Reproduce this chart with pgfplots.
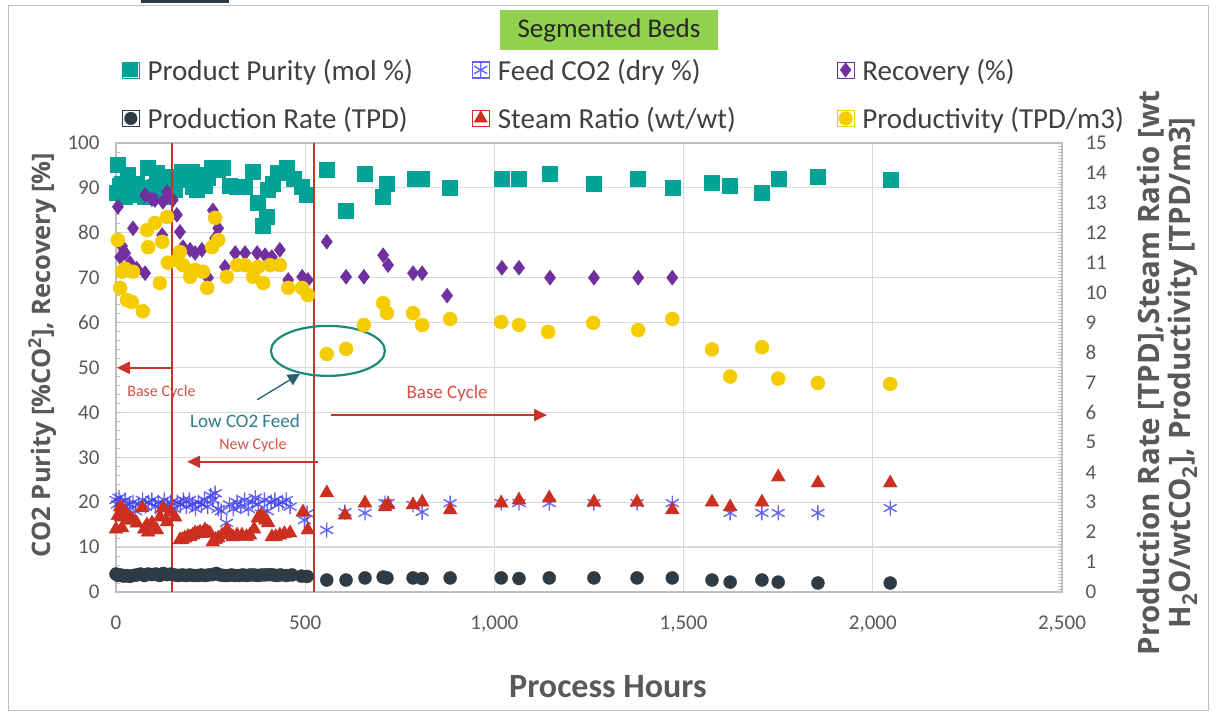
\documentclass[border=0pt]{standalone}
\usepackage{fontspec}
\setmainfont{Carlito}
\newfontfamily\osfont{Open Sans}
\usepackage{pgfplots}
\pgfplotsset{compat=1.18}
\usetikzlibrary{arrows.meta}
\definecolor{cTeal}{HTML}{00A396}
\definecolor{cPurple}{HTML}{7030A0}
\definecolor{cYellow}{HTML}{F5CC00}
\definecolor{cDark}{HTML}{2E3B44}
\definecolor{cRed}{HTML}{CC2E1F}
\definecolor{cBlue}{HTML}{4040F0}
\definecolor{cGrid}{HTML}{D9D9D9}
\definecolor{cAxis}{HTML}{BFBFBF}
\definecolor{cTick}{HTML}{595959}
\definecolor{cTxt}{HTML}{404040}
\definecolor{cLine}{HTML}{C8342A}
\definecolor{cAnn}{HTML}{D5504A}
\definecolor{cLow}{HTML}{2F7A8C}
\definecolor{cEll}{HTML}{1B8A7C}
\definecolor{cGreen}{HTML}{92D050}
\pgfkeys{/pgf/number format/1000 sep={,}}
\pgfplotsset{myleg/.style={legend image code/.code={\path (0pt,-8pt) rectangle (17pt,8pt); \draw[##1, draw=#1, fill=#1, line width=0.01pt, mark options={draw=#1, fill=#1, line width=0.01pt}] plot coordinates {(8.5pt,0pt)};}}}
\pgfplotsset{mylegB/.style={legend image code/.code={\path (0pt,-8pt) rectangle (17pt,8pt); \draw[##1, draw=#1] plot coordinates {(8.5pt,0pt)};}}}
\newcommand{\lstrut}{\rule[-5pt]{0pt}{27pt}}
\begin{document}
\begin{tikzpicture}[x=1pt,y=1pt]
\useasboundingbox (0,0) rectangle (1216,714);
\fill[white] (0,0) rectangle (1216,714);
\draw[cAxis, line width=1pt] (8,3) rectangle (1208,708);
\fill[cDark] (141,711) rectangle (229,714);
\node[fill=cGreen, minimum width=218pt, minimum height=40pt, inner sep=0pt, text=black!85,
  font=\fontsize{27}{32}\selectfont] at (609,684) {Segmented Beds};

\begin{axis}[
  at={(116pt,122pt)}, anchor=south west,
  width=946pt, height=449pt, scale only axis,
  xmin=0, xmax=2500, ymin=0, ymax=100,
  xtick={0,500,...,2500}, ytick={0,10,...,100},
  minor y tick num=4,
  ytick pos=left,
  grid=major, major grid style={cGrid, line width=1.2pt},
  axis line style={cAxis, line width=1.2pt},
  tick align=inside,
  xtick style={draw=none},
  ytick style={cAxis, line width=0.8pt},
  major tick length=5pt, minor tick length=4pt,
  /pgf/number format/assume math mode=true,
  tick label style={font=\fontsize{21}{25}\selectfont, text=cTick},
  xticklabel style={yshift=-20pt},
  yticklabel style={xshift=-13pt},
  xlabel={Process Hours},
  xlabel style={font=\bfseries\fontsize{34}{40}\selectfont, text=cTick},
  every axis x label/.append style={at={(axis description cs:0.52,-0.2116)}, anchor=center},
  ylabel={CO2 Purity [\%CO\textsuperscript{2}], Recovery [\%]},
  ylabel style={font=\osfont\bfseries\fontsize{25.5}{30}\selectfont, text=cTick},
  every axis y label/.append style={at={(axis description cs:-0.078,0.528)}, anchor=center},
  legend columns=3,
  legend cell align=left,
  legend style={at={(axis description cs:0.0031,1.1938)}, anchor=north west, draw=white, fill=white,
    font=\fontsize{29}{34}\selectfont, nodes={inner sep=0pt},
    /tikz/every odd column/.append style={column sep=8pt},
    /tikz/every even column/.append style={column sep=0pt},
    row sep=25pt},
]
% Product Purity
\addplot[only marks, myleg=cTeal, mark=square*, mark size=7.5pt, color=cTeal] coordinates {
(3,88.9)(5,95.1)(10,90.5)(16,91)(24,88)(32,92.9)(40,89.5)(55,91)(65,88.5)(77,88)(85,94.5)(95,90)
(103,90.2)(108,93.3)(118,89)(130,92.4)(135,88)(145,91)(156,89.5)(165,92.5)(174,93.5)(188,91.8)
(196,92.5)(201,93.5)(204,90.2)(214,89.5)(220,91)(227,92.9)(235,90.5)(243,92.2)(254,94.4)(268,94)
(283,94.4)(300,90.5)(320,90.2)(341,90.2)(362,93.5)(375,86.6)(389,81.5)(398,83.5)(402,89.5)(415,91)
(428,93.3)(452,94.4)(470,92)(492,90.2)(505,88.4)
(557,94)(608,85)(658,93.1)(706,88)(716,91)(790,92)(809,92)(883,90)(1020,92)(1065,92)(1147,93.1)
(1263,90.9)(1380,92)(1470,90)(1575,91.1)(1623,90.5)(1707,88.9)(1750,92)(1855,92.5)(2046,91.8)
};
\addlegendentry{\makebox[324pt][l]{\color{cTxt}\lstrut Product Purity (mol \%)}}
% Feed CO2
\addplot[only marks, mylegB=cBlue, mark=asterisk, mark size=7.5pt, color=cBlue, line width=1.4pt, opacity=0.8] coordinates {
(0,20.5)(4,19.5)(8,21)(12,20)(18,19)(24,20.5)(30,18.5)(36,19.5)(45,20)(52,18)(60,19.5)(70,20.5)
(78,19)(86,20)(95,20.5)(104,19)(112,20)(120,18.5)(128,20.5)(136,19.5)(145,20)(154,18.5)(162,20)
(170,19.5)(178,20.5)(186,19)(194,20.5)(202,19.5)(210,18.5)(218,20)(226,19.5)(234,20.5)(242,19)
(250,21.5)(256,20.5)(262,22)(270,18.5)(278,18)(292,15.4)(300,19.5)(310,18.5)(320,20)(330,19)
(340,20.5)(350,18.5)(360,20)(368,21)(376,19.5)(384,17.5)(392,20.5)(400,18)(410,20)(420,20.5)
(430,19.5)(440,20)(450,20.5)(460,19)(498,16)(505,17.5)
(557,13.8)(605,17.8)(658,17.6)(711,19.8)(719,19.8)(785,19.4)(809,17.8)(883,19.8)(1018,19.8)
(1065,19.8)(1145,19.8)(1263,19.8)(1377,19.8)(1470,19.8)(1623,17.6)(1707,17.6)(1750,17.6)
(1855,17.6)(2046,18.7)
};
\addlegendentry{\makebox[339pt][l]{\color{cTxt}\lstrut Feed CO2 (dry \%)}}
% Recovery
\addplot[only marks, myleg=cPurple, mark=diamond*, mark size=7.5pt, color=cPurple] coordinates {
(5,85.8)(11,74.6)(16,77)(24,75.5)(37,73.3)(45,81)(55,72)(77,71)(77,88.4)(95,87.5)(103,87.3)
(122,79.5)(124,86.9)(135,89.1)(150,87.3)(161,84)(169,80.2)(177,76.8)(196,76.2)(209,75.5)
(227,76.2)(243,70)(256,85)(262,78.8)(270,81)(288,72.4)(315,75.5)(341,75.5)(373,75.5)(394,75)
(412,74.6)(433,76.2)(455,69.5)(492,70.2)(507,69.5)
(557,78)(608,70.2)(655,70.2)(706,75)(719,72.8)(785,71)(809,71)(875,66)(1020,72.2)(1065,72.2)
(1147,70)(1263,70)(1380,70)(1470,70)
};
\addlegendentry{\color{cTxt}\lstrut Recovery (\%)}
\addlegendimage{only marks, myleg=cDark, mark=*, mark size=6.5pt, color=cDark}
\addlegendentry{\makebox[324pt][l]{\color{cTxt}\lstrut Production Rate (TPD)}}
\addlegendimage{only marks, myleg=cRed, mark=triangle*, mark size=8pt, color=cRed}
\addlegendentry{\makebox[339pt][l]{\color{cTxt}\lstrut Steam Ratio (wt/wt)}}
\addlegendimage{only marks, myleg=cYellow, mark=*, mark size=7pt, color=cYellow}
\addlegendentry{\color{cTxt}\lstrut Productivity (TPD/m3)}
\end{axis}

\begin{axis}[
  at={(116pt,122pt)}, anchor=south west,
  width=946pt, height=449pt, scale only axis,
  xmin=0, xmax=2500, ymin=0, ymax=15,
  axis x line=none, axis y line*=right,
  ytick={0,1,...,15}, minor y tick num=9,
  axis line style={cAxis, line width=1.2pt},
  tick align=inside,
  ytick style={cAxis, line width=0.8pt},
  major tick length=5pt, minor tick length=4pt,
  /pgf/number format/assume math mode=true,
  tick label style={font=\fontsize{21}{25}\selectfont, text=cTick},
  yticklabel style={xshift=20pt},
  ylabel={Production Rate [TPD],Steam Ratio [wt\\H\textsubscript{2}O/wtCO\textsubscript{2}], Productivity [TPD/m3]},
  ylabel style={font=\osfont\bfseries\fontsize{29.5}{31}\selectfont, text=cTick, align=center},
  every axis y label/.append style={at={(axis description cs:1.1115,0.488)}, anchor=center, rotate=0},
  clip=false,
]
% Productivity
\addplot[only marks, mark=*, mark size=7pt, color=cYellow] coordinates {
(5,11.76)(11,10.16)(16,10.70)(24,10.8)(29,9.75)(42,9.69)(45,10.70)(71,9.38)(82,12.09)(85,11.52)
(103,12.33)(116,10.32)(122,11.70)(135,12.53)(137,11.0)(161,11.09)(169,11.36)(177,10.92)(196,10.53)
(209,10.76)(230,10.70)(241,10.16)(254,11.52)(262,12.50)(270,11.76)(293,10.53)(320,10.92)(341,10.92)
(362,10.53)(375,10.86)(389,10.32)(407,10.92)(433,10.92)(455,10.16)(492,10.16)(507,9.92)
(557,7.95)(608,8.12)(655,8.92)(706,9.65)(716,9.32)(785,9.32)(809,8.92)(883,9.12)(1018,9.02)
(1065,8.92)(1142,8.69)(1261,8.99)(1380,8.75)(1470,9.12)(1575,8.1)(1623,7.2)(1707,8.18)(1750,7.13)
(1855,6.98)(2046,6.95)
};
% Steam Ratio
\addplot[only marks, mark=triangle*, mark size=8pt, color=cRed] coordinates {
(0,2.1)(5,2.55)(11,2.84)(14,2.5)(16,2.14)(20,2.7)(24,2.67)(30,2.4)(37,2.47)(45,2.4)(55,2.3)(69,2.81)
(75,2.1)(82,2.24)(85,2.0)(95,2.3)(108,2.07)(116,2.5)(124,2.8)(135,2.34)(143,2.67)(156,2.5)(169,1.74)
(175,1.75)(182,1.8)(190,1.85)(196,1.84)(203,1.9)(209,1.97)(216,1.95)(222,2.0)(228,1.95)(235,2.07)
(242,2.0)(248,1.97)(256,1.67)(263,1.75)(270,1.8)(280,1.9)(293,2.07)(300,1.95)(309,1.84)(320,1.9)
(333,1.9)(345,1.85)(354,1.9)(365,2.1)(375,2.47)(382,2.55)(389,2.5)(395,2.4)(402,2.31)(412,1.84)
(422,1.85)(433,1.9)(445,1.95)(460,1.97)(494,2.67)(507,2.07)
(557,3.31)(605,2.57)(658,2.97)(711,2.84)(719,2.91)(785,2.91)(809,3.0)(883,2.74)(1018,2.97)
(1065,3.07)(1145,3.14)(1263,3.0)(1377,3.0)(1470,2.74)(1575,3.0)(1623,2.84)(1707,3.0)(1750,3.84)
(1855,3.64)(2046,3.64)
};
% Production Rate
\addplot[only marks, mark=*, mark size=6.5pt, color=cDark] coordinates {
(0,0.60)(6,0.55)(12,0.57)(20,0.53)(28,0.55)(36,0.52)(45,0.55)(55,0.57)(65,0.60)(75,0.55)(85,0.60)
(95,0.58)(105,0.60)(115,0.55)(125,0.62)(135,0.58)(145,0.60)(155,0.57)(165,0.55)(175,0.57)(185,0.55)
(195,0.57)(205,0.55)(215,0.55)(225,0.57)(235,0.55)(245,0.57)(255,0.58)(265,0.62)(275,0.57)(285,0.55)
(295,0.55)(305,0.57)(315,0.55)(325,0.55)(335,0.57)(345,0.55)(355,0.57)(365,0.57)(375,0.55)(385,0.57)
(395,0.57)(405,0.58)(415,0.57)(425,0.55)(435,0.57)(450,0.55)(465,0.57)(490,0.53)(505,0.52)
(557,0.40)(608,0.40)(658,0.47)(706,0.50)(716,0.47)(785,0.47)(809,0.45)(883,0.47)(1018,0.47)
(1065,0.45)(1145,0.47)(1263,0.47)(1377,0.47)(1470,0.47)(1575,0.40)(1623,0.33)(1707,0.40)
(1750,0.33)(1855,0.30)(2046,0.30)
};
% annotations
\draw[cLine, line width=1.8pt] (axis cs:148,0) -- (axis cs:148,15);
\draw[cLine, line width=1.8pt] (axis cs:523,0) -- (axis cs:523,15);
\draw[cLine, line width=2.2pt, -{Triangle[length=13pt,width=12pt]}] (axis cs:148,7.49) -- (axis cs:2,7.49);
\draw[cLine, line width=2.2pt, -{Triangle[length=13pt,width=12pt]}] (axis cs:534,4.35) -- (axis cs:188,4.35);
\draw[cLine, line width=2.2pt, -{Triangle[length=13pt,width=12pt]}] (axis cs:568,5.91) -- (axis cs:1139,5.91);
\node[text=cAnn, font=\fontsize{16}{19}\selectfont] at (axis cs:120,6.675) {Base Cycle};
\node[text=cAnn, font=\fontsize{16}{19}\selectfont] at (axis cs:362,4.905) {New Cycle};
\node[text=cAnn, font=\fontsize{19}{23}\selectfont] at (axis cs:875,6.645) {Base Cycle};
\node[text=cLow, font=\fontsize{19}{23}\selectfont] at (axis cs:341,5.715) {Low CO2 Feed};
\draw[cLow!80!black, line width=1.3pt, -{Triangle[length=12pt,width=12pt]}] (axis cs:373,6.42) -- (axis cs:486,7.29);
\draw[cEll, line width=2.2pt] (axis cs:560,8.055) ellipse [x radius=57pt, y radius=25pt];
\end{axis}
\end{tikzpicture}
\end{document}
